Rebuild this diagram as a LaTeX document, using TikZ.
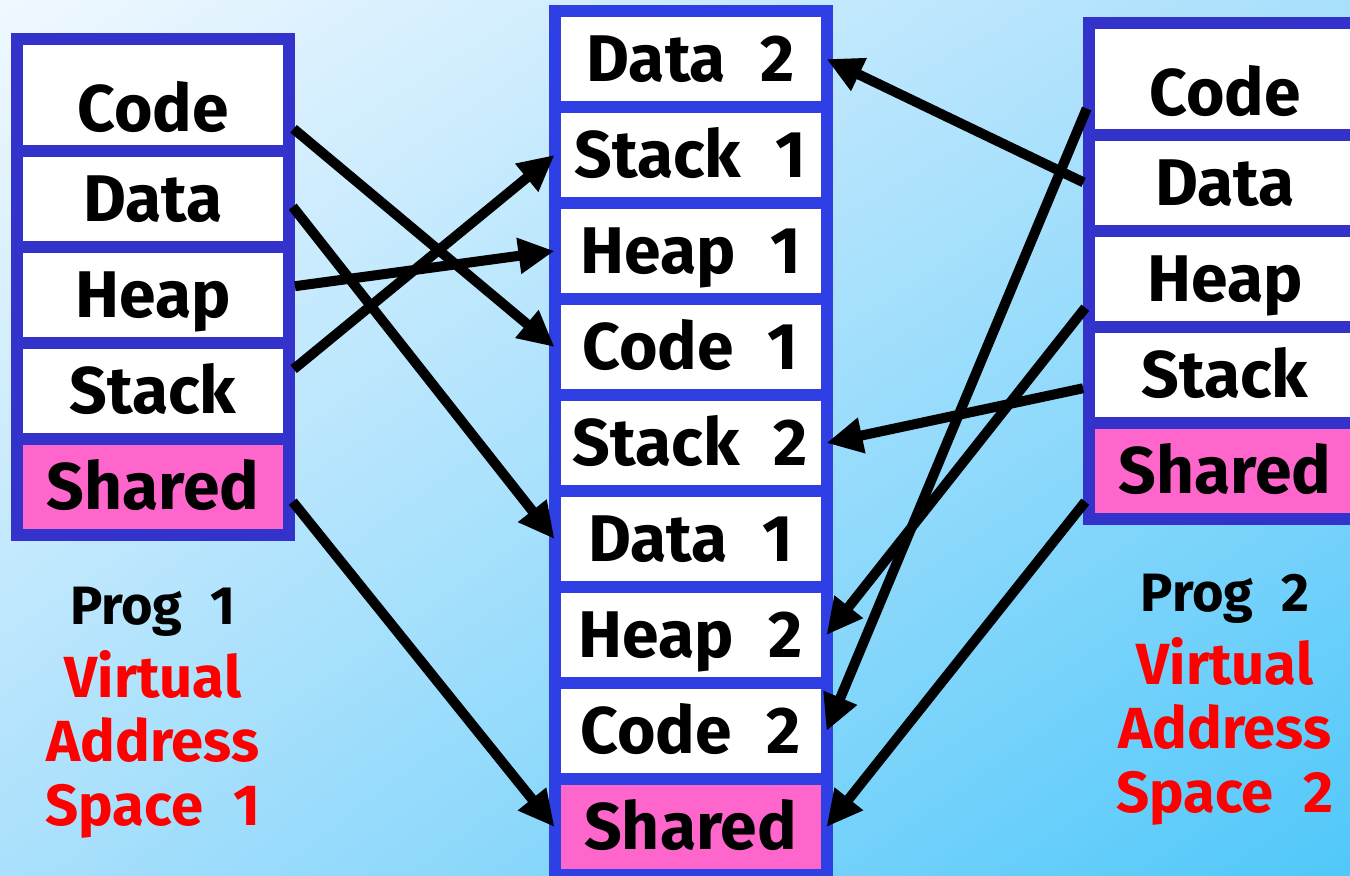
\documentclass[tikz,border=0pt]{standalone}
\usepackage{fontspec}
\setmainfont{Fira Sans}[WordSpace=2.2]
\usepackage{tikz}
\usetikzlibrary{arrows.meta, positioning, shadings}
\definecolor{framedark}{RGB}{51,51,204}
\definecolor{framemid}{RGB}{46,64,228}
\definecolor{sharedpink}{RGB}{255,102,204}
\definecolor{bgtl}{RGB}{240,248,255}
\definecolor{bgtr}{RGB}{168,223,252}
\definecolor{bgbl}{RGB}{170,224,252}
\definecolor{bgbr}{RGB}{80,200,250}
\begin{document}
\begin{tikzpicture}[
			x=0.5pt, y=-0.5pt,
			node distance=0pt,
			cell/.style={rectangle, draw=framedark, line width=6pt, outer sep=0pt, inner sep=0pt, fill=white, minimum width=136pt, minimum height=48pt, text height=26pt, text depth=3.3pt, font=\fontsize{33}{38}\selectfont\bfseries},
			topcell/.style={cell, minimum height=56pt, text height=40pt},
			midcell/.style={cell, draw=framemid},
			sharedcell/.style={fill=sharedpink},
			proglabel/.style={inner sep=0pt, font=\fontsize{27}{32}\selectfont\bfseries},
			vaslabel/.style={inner sep=0pt, align=center, text=red, font=\fontsize{29}{32}\selectfont\bfseries},
			link/.style={-{Triangle[length=18pt, width=17pt]}, line width=5pt}
			]
			\useasboundingbox (0,0) rectangle (1350,876);
			\clip (0,0) rectangle (1350,876);
			\shade[upper left=bgtl, upper right=bgtr, lower left=bgbl, lower right=bgbr] (0,0) rectangle (1350,876);
			\node[topcell] (lcode) at (153,95) {Code};
			\node[cell, below=of lcode] (ldata) {Data};
			\node[cell, below=of ldata] (lheap) {Heap};
			\node[cell, below=of lheap] (lstack) {Stack};
			\node[cell, sharedcell, below=of lstack] (lshared) {Shared};
			\node[midcell] (mdata2) at (690.5,59) {Data 2};
			\node[midcell, below=of mdata2] (mstack1) {Stack 1};
			\node[midcell, below=of mstack1] (mheap1) {Heap 1};
			\node[midcell, below=of mheap1] (mcode1) {Code 1};
			\node[midcell, below=of mcode1] (mstack2) {Stack 2};
			\node[midcell, below=of mstack2] (mdata1) {Data 1};
			\node[midcell, below=of mdata1] (mheap2) {Heap 2};
			\node[midcell, below=of mheap2] (mcode2) {Code 2};
			\node[midcell, sharedcell, below=of mcode2] (mshared) {Shared};
			\node[topcell] (rcode) at (1225,79) {Code};
			\node[cell, below=of rcode] (rdata) {Data};
			\node[cell, below=of rdata] (rheap) {Heap};
			\node[cell, below=of rheap] (rstack) {Stack};
			\node[cell, sharedcell, below=of rstack] (rshared) {Shared};
			\node[proglabel, anchor=base] (prog1) at (153,625) {Prog 1};
			\node[vaslabel, anchor=north] (vas1) at (153,650) {Virtual\\Address\\Space 1};
			\node[proglabel, anchor=base] (prog2) at (1225,612) {Prog 2};
			\node[vaslabel, anchor=north] (vas2) at (1225,637) {Virtual\\Address\\Space 2};
			\draw[link, shorten <=3pt] ([yshift=-15pt]lcode.east) -- (mcode1.west);
			\draw[link, shorten <=3pt] ([yshift=-1.5pt]ldata.east) -- (mdata1.west);
			\draw[link, shorten <=3pt] ([yshift=4pt]lheap.east) -- (mheap1.west);
			\draw[link, shorten <=3pt] ([yshift=9pt]lstack.east) -- (mstack1.west);
			\draw[link, shorten <=3pt] ([yshift=-5pt]lshared.east) -- (mshared.west);
			\draw[link, shorten <=3pt] ([yshift=-12pt]rcode.west) -- (mcode2.east);
			\draw[link, shorten <=3pt] ([yshift=-1pt]rdata.west) -- (mdata2.east);
			\draw[link, shorten <=3pt] ([yshift=-12pt]rheap.west) -- (mheap2.east);
			\draw[link, shorten <=3pt] ([yshift=-6pt]rstack.west) -- (mstack2.east);
			\draw[link, shorten <=3pt] ([yshift=-13pt]rshared.west) -- (mshared.east);
		\end{tikzpicture}
\end{document}
